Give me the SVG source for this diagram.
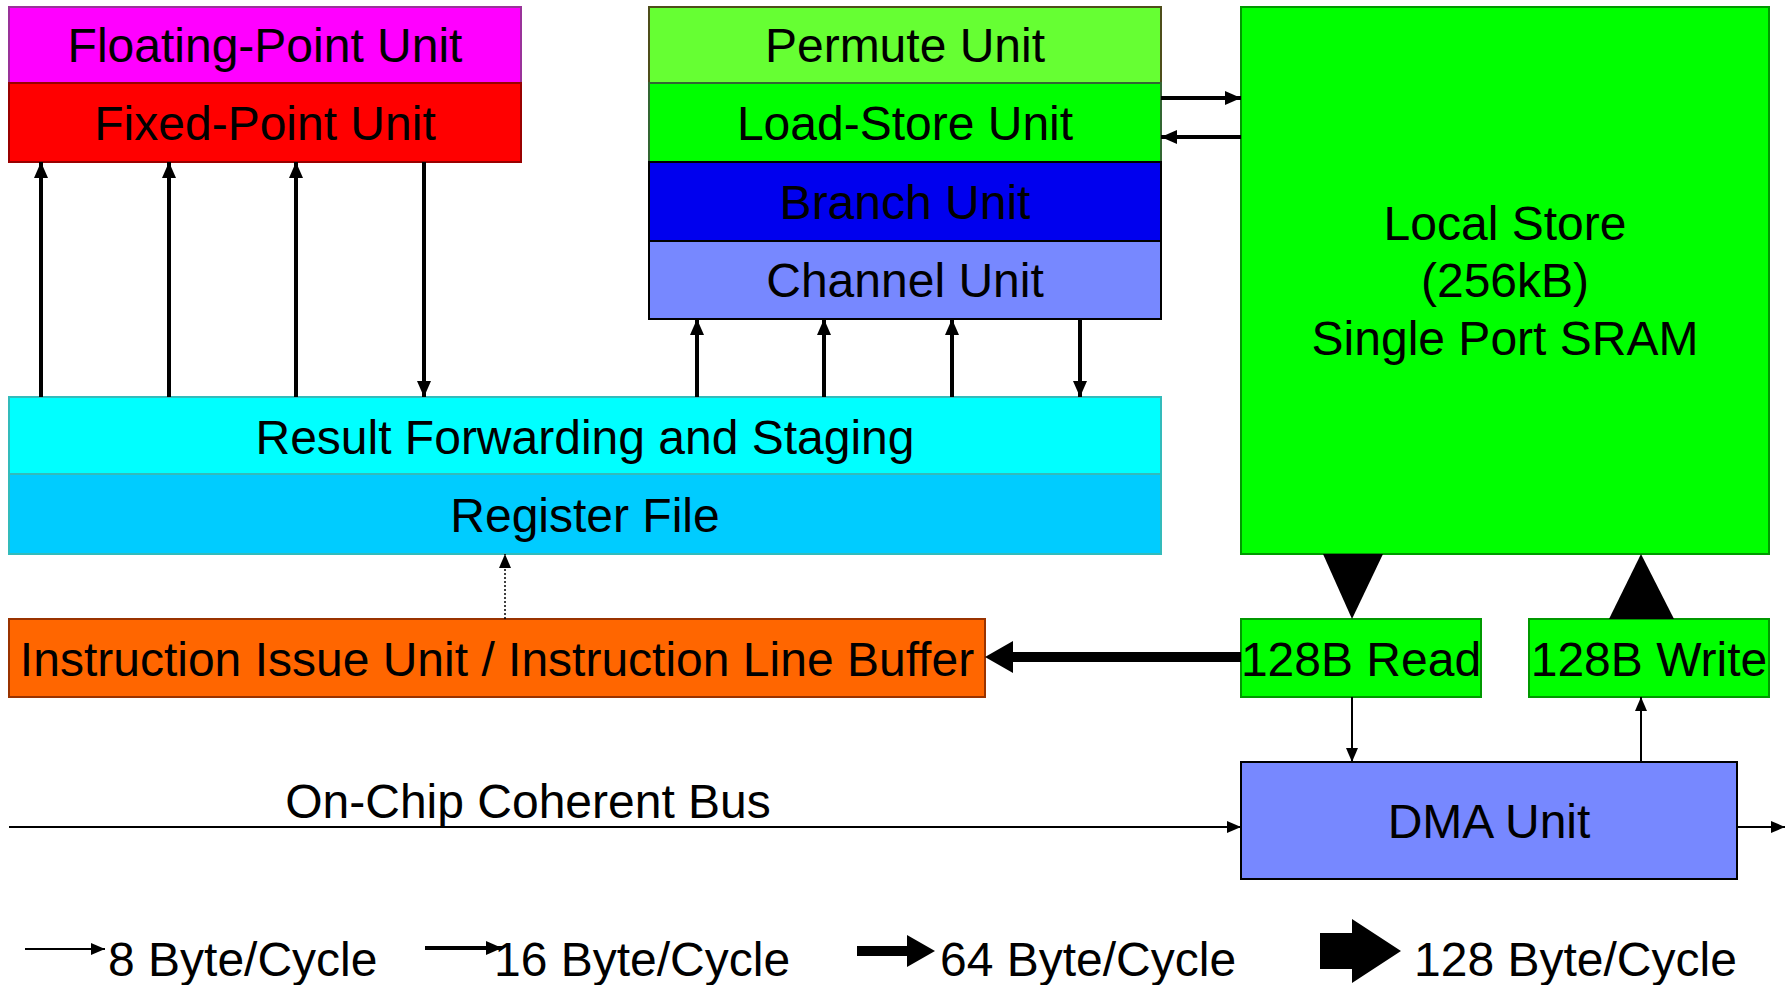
<svg xmlns="http://www.w3.org/2000/svg" width="1788" height="985" viewBox="0 0 1788 985">
<defs>
<style>
text{font-family:"Liberation Sans",Arial,sans-serif;font-size:48px;fill:#000;text-anchor:middle}
.l{text-anchor:start}
.b{stroke-width:2}
.c{stroke:#000;fill:none}
.m{stroke-width:4}
.t{stroke-width:2}
</style>
<marker id="a16" markerUnits="userSpaceOnUse" markerWidth="16" markerHeight="14" refX="16" refY="7" orient="auto"><path d="M0,0 L16,7 L0,14 z" fill="#000"/></marker>
<marker id="a8" markerUnits="userSpaceOnUse" markerWidth="14" markerHeight="12" refX="14" refY="6" orient="auto"><path d="M0,0 L14,6 L0,12 z" fill="#000"/></marker>
</defs>
<rect width="1788" height="985" fill="#fff"/>

<g id="fpu"><rect x="9" y="7" width="512" height="76" fill="#FF00FF" stroke="#993399" class="b"/><text x="265" y="62">Floating-Point Unit</text></g>
<g id="fxu"><rect x="9" y="83" width="512" height="79" fill="#FF0000" stroke="#990000" class="b"/><text x="265" y="140">Fixed-Point Unit</text></g>

<g id="permute"><rect x="649" y="7" width="512" height="76" fill="#66FF33" stroke="#4D4D1A" class="b"/><text x="905" y="62">Permute Unit</text></g>
<g id="lsu"><rect x="649" y="83" width="512" height="79" fill="#00FF00" stroke="#336633" class="b"/><text x="905" y="140">Load-Store Unit</text></g>
<g id="branch"><rect x="649" y="162" width="512" height="79" fill="#0000EE" stroke="#000" class="b"/><text x="905" y="219">Branch Unit</text></g>
<g id="channel"><rect x="649" y="241" width="512" height="78" fill="#7788FF" stroke="#000" class="b"/><text x="905" y="297">Channel Unit</text></g>

<g id="localstore"><rect x="1241" y="7" width="528" height="547" fill="#00FF00" stroke="#009900" class="b"/>
<text x="1505" y="240">Local Store</text><text x="1505" y="297">(256kB)</text><text x="1505" y="355">Single Port SRAM</text></g>

<g id="result"><rect x="9" y="397" width="1152" height="77" fill="#00FFFF" stroke="#33BBBB" class="b"/><text x="585" y="454">Result Forwarding and Staging</text></g>
<g id="regfile"><rect x="9" y="474" width="1152" height="80" fill="#00CCFF" stroke="#33BBBB" class="b"/><text x="585" y="532">Register File</text></g>

<g id="issue"><rect x="9" y="619" width="976" height="78" fill="#FF6600" stroke="#993300" class="b"/><text x="497" y="676">Instruction Issue Unit / Instruction Line Buffer</text></g>

<g id="read"><rect x="1241" y="619" width="240" height="78" fill="#00FF00" stroke="#009900" class="b"/><text x="1361" y="676">128B Read</text></g>
<g id="write"><rect x="1529" y="619" width="240" height="78" fill="#00FF00" stroke="#009900" class="b"/><text x="1649" y="676">128B Write</text></g>

<g id="dma"><rect x="1241" y="762" width="496" height="117" fill="#7788FF" stroke="#000" class="b"/><text x="1489" y="838">DMA Unit</text></g>

<g id="bus-label"><text x="528" y="818">On-Chip Coherent Bus</text></g>

<g id="connectors">
<line class="c m" x1="41" y1="397" x2="41" y2="162" marker-end="url(#a16)"/>
<line class="c m" x1="169" y1="397" x2="169" y2="162" marker-end="url(#a16)"/>
<line class="c m" x1="296" y1="397" x2="296" y2="162" marker-end="url(#a16)"/>
<line class="c m" x1="424" y1="162" x2="424" y2="397" marker-end="url(#a16)"/>
<line class="c m" x1="697" y1="397" x2="697" y2="319" marker-end="url(#a16)"/>
<line class="c m" x1="824" y1="397" x2="824" y2="319" marker-end="url(#a16)"/>
<line class="c m" x1="952" y1="397" x2="952" y2="319" marker-end="url(#a16)"/>
<line class="c m" x1="1080" y1="319" x2="1080" y2="397" marker-end="url(#a16)"/>
<line class="c m" x1="1161" y1="98" x2="1241" y2="98" marker-end="url(#a16)"/>
<line class="c m" x1="1241" y1="137" x2="1161" y2="137" marker-end="url(#a16)"/>
<line x1="505" y1="619" x2="505" y2="554" stroke="#000" stroke-width="1.5" stroke-dasharray="2,2" marker-end="url(#a8)"/>
<polygon points="1241,652 1013,652 1013,641 985,657 1013,673 1013,662 1241,662" fill="#000"/>
<polygon points="1323,554 1383,554 1352,619" fill="#000"/>
<polygon points="1609,619 1674,619 1641,554" fill="#000"/>
<line class="c t" x1="1352" y1="697" x2="1352" y2="762" marker-end="url(#a8)"/>
<line class="c t" x1="1641" y1="762" x2="1641" y2="697" marker-end="url(#a8)"/>
<line class="c t" x1="9" y1="827" x2="1241" y2="827" marker-end="url(#a8)"/>
<line class="c t" x1="1737" y1="827" x2="1785" y2="827" marker-end="url(#a8)"/>
</g>

<g id="legend">
<line class="c t" x1="25" y1="949" x2="105" y2="949" marker-end="url(#a8)"/>
<text class="l" x="108" y="976">8 Byte/Cycle</text>
<line class="c m" x1="425" y1="948" x2="502" y2="948" marker-end="url(#a16)"/>
<text class="l" x="494" y="976">16 Byte/Cycle</text>
<polygon points="857,946 907,946 907,935 935,951 907,967 907,956 857,956" fill="#000"/>
<text class="l" x="940" y="976">64 Byte/Cycle</text>
<polygon points="1320,933 1352,933 1352,919 1401,951 1352,983 1352,969 1320,969" fill="#000"/>
<text class="l" x="1414" y="976">128 Byte/Cycle</text>
</g>
</svg>
